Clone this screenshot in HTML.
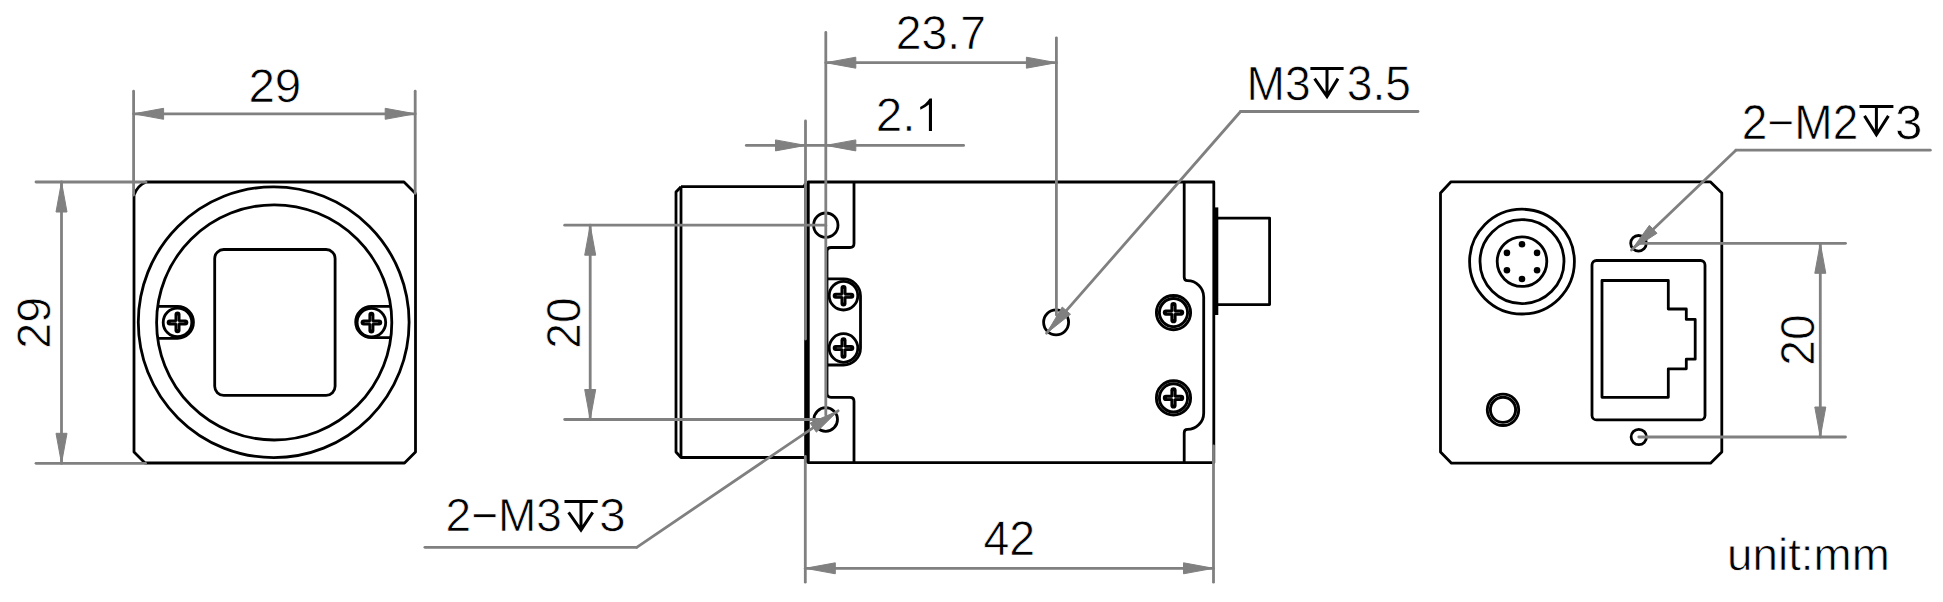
<!DOCTYPE html>
<html><head><meta charset="utf-8"><style>
html,body{margin:0;padding:0;background:#fff;}
svg{display:block;}
text{font-family:"Liberation Sans",sans-serif;fill:#000;stroke:#fff;stroke-width:0.7px;text-rendering:geometricPrecision;}
</style></head><body>
<svg width="1943" height="602" viewBox="0 0 1943 602">
<rect width="1943" height="602" fill="#fff"/>
<g id="shapes">
<path d="M146,182 H404 L415.5,193.5 V452 L404.5,463 H145 L134,452 V195 Q137.5,185.5 146,182 Z" stroke="#000" stroke-width="2.8" fill="none" stroke-linejoin="round" />
<circle cx="273.7" cy="322.2" r="135.4" stroke="#000" stroke-width="2.8" fill="none"/>
<circle cx="274.2" cy="322.4" r="117.6" stroke="#000" stroke-width="2.8" fill="none"/>
<rect x="214.7" y="249.5" width="120.4" height="145.8" rx="9" ry="9" stroke="#000" stroke-width="2.8" fill="none"/>
<path d="M157.5,306.4 H177.5 A15.95,15.95 0 0 1 177.5,338.3 H157.5" stroke="#000" stroke-width="2.8" fill="none" stroke-linejoin="round" />
<path d="M391,306.3 H371.4 A15.7,15.7 0 0 0 371.4,337.7 H391" stroke="#000" stroke-width="2.8" fill="none" stroke-linejoin="round" />
<circle cx="177.5" cy="322.4" r="14.3" stroke="#000" stroke-width="2.8" fill="none"/>
<line x1="169.7" y1="322.4" x2="185.3" y2="322.4" stroke="#000" stroke-width="6.0" stroke-linecap="round"/>
<line x1="177.5" y1="314.59999999999997" x2="177.5" y2="330.2" stroke="#000" stroke-width="6.0" stroke-linecap="round"/>
<line x1="170.7" y1="322.4" x2="184.3" y2="322.4" stroke="#666" stroke-width="0.8" stroke-linecap="butt"/>
<line x1="177.5" y1="315.59999999999997" x2="177.5" y2="329.2" stroke="#666" stroke-width="0.8" stroke-linecap="butt"/>
<circle cx="177.5" cy="322.4" r="1.1" fill="#fff"/>
<circle cx="371.4" cy="322.6" r="14.3" stroke="#000" stroke-width="2.8" fill="none"/>
<line x1="363.59999999999997" y1="322.6" x2="379.2" y2="322.6" stroke="#000" stroke-width="6.0" stroke-linecap="round"/>
<line x1="371.4" y1="314.8" x2="371.4" y2="330.40000000000003" stroke="#000" stroke-width="6.0" stroke-linecap="round"/>
<line x1="364.59999999999997" y1="322.6" x2="378.2" y2="322.6" stroke="#666" stroke-width="0.8" stroke-linecap="butt"/>
<line x1="371.4" y1="315.8" x2="371.4" y2="329.40000000000003" stroke="#666" stroke-width="0.8" stroke-linecap="butt"/>
<circle cx="371.4" cy="322.6" r="1.1" fill="#fff"/>
<line x1="133.6" y1="91.2" x2="133.6" y2="195" stroke="#808080" stroke-width="2.8" stroke-linecap="round"/>
<line x1="415.2" y1="91.2" x2="415.2" y2="193.3" stroke="#808080" stroke-width="2.8" stroke-linecap="round"/>
<line x1="133.6" y1="113.8" x2="415.2" y2="113.8" stroke="#808080" stroke-width="2.8" stroke-linecap="round"/>
<polygon points="133.60,113.80 163.60,108.30 163.60,119.30" fill="#808080" stroke="#808080" stroke-width="1" stroke-linejoin="round"/>
<polygon points="415.20,113.80 385.20,119.30 385.20,108.30" fill="#808080" stroke="#808080" stroke-width="1" stroke-linejoin="round"/>
<line x1="36" y1="182" x2="146" y2="182" stroke="#808080" stroke-width="2.8" stroke-linecap="round"/>
<line x1="36" y1="463.3" x2="145.5" y2="463.3" stroke="#808080" stroke-width="2.8" stroke-linecap="round"/>
<line x1="61.5" y1="182" x2="61.5" y2="463.3" stroke="#808080" stroke-width="2.8" stroke-linecap="round"/>
<polygon points="61.50,182.00 67.00,212.00 56.00,212.00" fill="#808080" stroke="#808080" stroke-width="1" stroke-linejoin="round"/>
<polygon points="61.50,463.30 56.00,433.30 67.00,433.30" fill="#808080" stroke="#808080" stroke-width="1" stroke-linejoin="round"/>
<path d="M681,186.7 H803 Q805,186 805.5,183" stroke="#000" stroke-width="2.8" fill="none" stroke-linejoin="round" />
<path d="M681,186.7 L676,192 V452 L681,457.5 H805" stroke="#000" stroke-width="2.8" fill="none" stroke-linejoin="round" />
<line x1="681" y1="186.7" x2="681" y2="457.5" stroke="#000" stroke-width="2.8" stroke-linecap="butt"/>
<line x1="805.8" y1="184" x2="805.8" y2="462.7" stroke="#000" stroke-width="3.2" stroke-linecap="butt"/>
<path d="M808.3,182 H1213.8 V462.7 H808.3 Z" stroke="#000" stroke-width="2.8" fill="none" stroke-linejoin="round" />
<path d="M854,182 V243.5 Q854,247.5 850,247.5 H831 Q827,247.5 827,251.5 V393.3 Q827,397.3 831,397.3 H850 Q854,397.3 854,401.3 V462.7" stroke="#000" stroke-width="2.8" fill="none" stroke-linejoin="round" />
<path d="M827,278.9 H843.5 A17,17 0 0 1 860.5,295.9 V348 A17,17 0 0 1 843.5,365 H827" stroke="#000" stroke-width="2.8" fill="none" stroke-linejoin="round" />
<circle cx="843.5" cy="295.7" r="14.3" stroke="#000" stroke-width="2.8" fill="none"/>
<line x1="835.7" y1="295.7" x2="851.3" y2="295.7" stroke="#000" stroke-width="6.0" stroke-linecap="round"/>
<line x1="843.5" y1="287.9" x2="843.5" y2="303.5" stroke="#000" stroke-width="6.0" stroke-linecap="round"/>
<line x1="836.7" y1="295.7" x2="850.3" y2="295.7" stroke="#666" stroke-width="0.8" stroke-linecap="butt"/>
<line x1="843.5" y1="288.9" x2="843.5" y2="302.5" stroke="#666" stroke-width="0.8" stroke-linecap="butt"/>
<circle cx="843.5" cy="295.7" r="1.1" fill="#fff"/>
<circle cx="843.5" cy="348" r="14.3" stroke="#000" stroke-width="2.8" fill="none"/>
<line x1="835.7" y1="348" x2="851.3" y2="348" stroke="#000" stroke-width="6.0" stroke-linecap="round"/>
<line x1="843.5" y1="340.2" x2="843.5" y2="355.8" stroke="#000" stroke-width="6.0" stroke-linecap="round"/>
<line x1="836.7" y1="348" x2="850.3" y2="348" stroke="#666" stroke-width="0.8" stroke-linecap="butt"/>
<line x1="843.5" y1="341.2" x2="843.5" y2="354.8" stroke="#666" stroke-width="0.8" stroke-linecap="butt"/>
<circle cx="843.5" cy="348" r="1.1" fill="#fff"/>
<circle cx="825.8" cy="225.2" r="12.2" stroke="#000" stroke-width="2.8" fill="none"/>
<circle cx="825.7" cy="419.5" r="11.8" stroke="#000" stroke-width="2.8" fill="none"/>
<circle cx="1056.1" cy="322.3" r="12.5" stroke="#000" stroke-width="2.8" fill="none"/>
<path d="M1184.2,182 V277 Q1184.2,280.7 1187.4,280.7 A16.3,16.3 0 0 1 1203.7,297 V412.9 A16.5,16.5 0 0 1 1187.4,429.4 Q1184.2,429.4 1184.2,433 V462.7" stroke="#000" stroke-width="2.8" fill="none" stroke-linejoin="round" />
<circle cx="1173.5" cy="312.6" r="14.1" stroke="#000" stroke-width="2.9" fill="none"/>
<circle cx="1173.5" cy="312.6" r="17.1" stroke="#000" stroke-width="2.9" fill="none"/>
<line x1="1165.9" y1="312.6" x2="1181.1" y2="312.6" stroke="#000" stroke-width="6.2" stroke-linecap="round"/>
<line x1="1173.5" y1="305.0" x2="1173.5" y2="320.20000000000005" stroke="#000" stroke-width="6.2" stroke-linecap="round"/>
<line x1="1166.9" y1="312.6" x2="1180.1" y2="312.6" stroke="#666" stroke-width="0.8" stroke-linecap="butt"/>
<line x1="1173.5" y1="306.0" x2="1173.5" y2="319.20000000000005" stroke="#666" stroke-width="0.8" stroke-linecap="butt"/>
<circle cx="1173.5" cy="312.6" r="1.1" fill="#fff"/>
<circle cx="1173.5" cy="397.9" r="14.1" stroke="#000" stroke-width="2.9" fill="none"/>
<circle cx="1173.5" cy="397.9" r="17.1" stroke="#000" stroke-width="2.9" fill="none"/>
<line x1="1165.9" y1="397.9" x2="1181.1" y2="397.9" stroke="#000" stroke-width="6.2" stroke-linecap="round"/>
<line x1="1173.5" y1="390.29999999999995" x2="1173.5" y2="405.5" stroke="#000" stroke-width="6.2" stroke-linecap="round"/>
<line x1="1166.9" y1="397.9" x2="1180.1" y2="397.9" stroke="#666" stroke-width="0.8" stroke-linecap="butt"/>
<line x1="1173.5" y1="391.29999999999995" x2="1173.5" y2="404.5" stroke="#666" stroke-width="0.8" stroke-linecap="butt"/>
<circle cx="1173.5" cy="397.9" r="1.1" fill="#fff"/>
<path d="M1215.5,218.1 H1269.6 V304.6 H1215.5" stroke="#000" stroke-width="2.8" fill="none" stroke-linejoin="round" />
<line x1="1216.3" y1="207.4" x2="1216.3" y2="315" stroke="#000" stroke-width="4.0" stroke-linecap="butt"/>
<line x1="825.8" y1="32.4" x2="825.8" y2="415" stroke="#808080" stroke-width="2.8" stroke-linecap="round"/>
<line x1="1056.4" y1="37.8" x2="1056.4" y2="315" stroke="#808080" stroke-width="2.8" stroke-linecap="round"/>
<line x1="825.8" y1="62.7" x2="1056.4" y2="62.7" stroke="#808080" stroke-width="2.8" stroke-linecap="round"/>
<polygon points="825.80,62.70 855.80,57.20 855.80,68.20" fill="#808080" stroke="#808080" stroke-width="1" stroke-linejoin="round"/>
<polygon points="1056.40,62.70 1026.40,68.20 1026.40,57.20" fill="#808080" stroke="#808080" stroke-width="1" stroke-linejoin="round"/>
<line x1="805.5" y1="121" x2="805.5" y2="339" stroke="#808080" stroke-width="2.8" stroke-linecap="round"/>
<line x1="746.3" y1="145.4" x2="963.6" y2="145.4" stroke="#808080" stroke-width="2.8" stroke-linecap="round"/>
<polygon points="805.50,145.40 775.50,150.90 775.50,139.90" fill="#808080" stroke="#808080" stroke-width="1" stroke-linejoin="round"/>
<polygon points="825.80,145.40 855.80,139.90 855.80,150.90" fill="#808080" stroke="#808080" stroke-width="1" stroke-linejoin="round"/>
<line x1="564.7" y1="225.2" x2="825.8" y2="225.2" stroke="#808080" stroke-width="2.8" stroke-linecap="round"/>
<line x1="564.7" y1="419.5" x2="825.7" y2="419.5" stroke="#808080" stroke-width="2.8" stroke-linecap="round"/>
<line x1="590.2" y1="225.2" x2="590.2" y2="419.5" stroke="#808080" stroke-width="2.8" stroke-linecap="round"/>
<polygon points="590.20,225.20 595.70,255.20 584.70,255.20" fill="#808080" stroke="#808080" stroke-width="1" stroke-linejoin="round"/>
<polygon points="590.20,419.50 584.70,389.50 595.70,389.50" fill="#808080" stroke="#808080" stroke-width="1" stroke-linejoin="round"/>
<line x1="805.3" y1="456.5" x2="805.3" y2="582.2" stroke="#808080" stroke-width="2.8" stroke-linecap="round"/>
<line x1="1213.5" y1="445.8" x2="1213.5" y2="582.2" stroke="#808080" stroke-width="2.8" stroke-linecap="round"/>
<line x1="805.3" y1="568.3" x2="1213.5" y2="568.3" stroke="#808080" stroke-width="2.8" stroke-linecap="round"/>
<polygon points="805.30,568.30 835.30,562.80 835.30,573.80" fill="#808080" stroke="#808080" stroke-width="1" stroke-linejoin="round"/>
<polygon points="1213.50,568.30 1183.50,573.80 1183.50,562.80" fill="#808080" stroke="#808080" stroke-width="1" stroke-linejoin="round"/>
<line x1="424.9" y1="547.3" x2="636.7" y2="547.3" stroke="#808080" stroke-width="2.8" stroke-linecap="round"/>
<line x1="636.7" y1="547.3" x2="838.1" y2="410.8" stroke="#808080" stroke-width="2.8" stroke-linecap="round"/>
<polygon points="838.10,410.80 816.35,432.18 810.18,423.08" fill="#808080" stroke="#808080" stroke-width="1" stroke-linejoin="round"/>
<line x1="1240.6" y1="111.5" x2="1418" y2="111.5" stroke="#808080" stroke-width="2.8" stroke-linecap="round"/>
<line x1="1240.6" y1="111.5" x2="1046.6" y2="333.2" stroke="#808080" stroke-width="2.8" stroke-linecap="round"/>
<polygon points="1046.60,333.20 1062.22,307.00 1070.49,314.25" fill="#808080" stroke="#808080" stroke-width="1" stroke-linejoin="round"/>
<path d="M1451,181.8 H1710.3 L1721.8,193 V452 L1710.5,463.2 H1451.5 L1440.5,452 V193 Z" stroke="#000" stroke-width="2.8" fill="none" stroke-linejoin="round" />
<circle cx="1522" cy="261.6" r="52.4" stroke="#000" stroke-width="2.8" fill="none"/>
<circle cx="1522" cy="261.6" r="42" stroke="#000" stroke-width="2.8" fill="none"/>
<circle cx="1522" cy="261.6" r="24.8" stroke="#000" stroke-width="2.8" fill="none"/>
<circle cx="1522.00" cy="244.20" r="3.3" fill="#000"/>
<circle cx="1506.93" cy="252.90" r="3.3" fill="#000"/>
<circle cx="1506.93" cy="270.30" r="3.3" fill="#000"/>
<circle cx="1522.00" cy="279.00" r="3.3" fill="#000"/>
<circle cx="1537.07" cy="270.30" r="3.3" fill="#000"/>
<circle cx="1537.07" cy="252.90" r="3.3" fill="#000"/>
<circle cx="1503" cy="409.8" r="12.6" stroke="#000" stroke-width="2.9" fill="none"/>
<circle cx="1503" cy="409.8" r="15.7" stroke="#000" stroke-width="2.9" fill="none"/>
<rect x="1592" y="260.5" width="113" height="159.4" rx="4.5" ry="4.5" stroke="#000" stroke-width="2.8" fill="none"/>
<path d="M1602,280.5 H1668.3 V309 H1686.3 V319.4 H1695.2 V359.2 H1686.3 V368.8 H1668.3 V397.3 H1602 Z" stroke="#000" stroke-width="2.8" fill="none" stroke-linejoin="round" />
<circle cx="1638.5" cy="243.3" r="7.8" stroke="#000" stroke-width="2.8" fill="none"/>
<circle cx="1638.8" cy="437" r="7.7" stroke="#000" stroke-width="2.8" fill="none"/>
<line x1="1638.5" y1="243.3" x2="1845.5" y2="243.3" stroke="#808080" stroke-width="2.8" stroke-linecap="round"/>
<line x1="1638.8" y1="437" x2="1845.5" y2="437" stroke="#808080" stroke-width="2.8" stroke-linecap="round"/>
<line x1="1820.3" y1="243.3" x2="1820.3" y2="437" stroke="#808080" stroke-width="2.8" stroke-linecap="round"/>
<polygon points="1820.30,243.30 1825.80,273.30 1814.80,273.30" fill="#808080" stroke="#808080" stroke-width="1" stroke-linejoin="round"/>
<polygon points="1820.30,437.00 1814.80,407.00 1825.80,407.00" fill="#808080" stroke="#808080" stroke-width="1" stroke-linejoin="round"/>
<line x1="1735.9" y1="150.2" x2="1930.3" y2="150.2" stroke="#808080" stroke-width="2.8" stroke-linecap="round"/>
<line x1="1735.9" y1="150.2" x2="1631.5" y2="250" stroke="#808080" stroke-width="2.8" stroke-linecap="round"/>
<polygon points="1631.50,250.00 1649.39,225.29 1656.99,233.25" fill="#808080" stroke="#808080" stroke-width="1" stroke-linejoin="round"/>
</g>
<g id="texts">
<text id="t0" x="248.42" y="102.49" font-size="47.17" textLength="52.93" lengthAdjust="spacingAndGlyphs">29</text>
<text id="t1" x="49.77" y="348.69" font-size="46.97" textLength="51.83" lengthAdjust="spacingAndGlyphs" transform="rotate(-90 49.77 348.69)">29</text>
<text id="t2" x="895.85" y="48.98" font-size="47.32" textLength="90.09" lengthAdjust="spacingAndGlyphs">23.7</text>
<text id="t3" x="875.86" y="131.16" font-size="47.18" textLength="39.71" lengthAdjust="spacingAndGlyphs">2.</text>
<text id="t4" x="579.57" y="348.64" font-size="47.58" textLength="51.38" lengthAdjust="spacingAndGlyphs" transform="rotate(-90 579.57 348.64)">20</text>
<text id="t5" x="983.40" y="554.81" font-size="48.60" textLength="51.66" lengthAdjust="spacingAndGlyphs">42</text>
<text id="t6" x="1813.58" y="365.86" font-size="47.60" textLength="51.50" lengthAdjust="spacingAndGlyphs" transform="rotate(-90 1813.58 365.86)">20</text>
<text id="t7" x="1727.13" y="569.78" font-size="45.25" textLength="162.61" lengthAdjust="spacingAndGlyphs">unit:mm</text>
<text id="t8" x="1246.50" y="100.05" font-size="47.96" textLength="64.10" lengthAdjust="spacingAndGlyphs">M3</text>
<text id="t9" x="1346.75" y="100.15" font-size="48.90" textLength="64.16" lengthAdjust="spacingAndGlyphs">3.5</text>
<text id="t10" x="445.56" y="530.88" font-size="46.38" textLength="116.37" lengthAdjust="spacingAndGlyphs">2−M3</text>
<text id="t11" x="599.37" y="531.07" font-size="46.35" textLength="26.37" lengthAdjust="spacingAndGlyphs">3</text>
<text id="t12" x="1741.75" y="139.30" font-size="48.73" textLength="116.52" lengthAdjust="spacingAndGlyphs">2−M2</text>
<text id="t13" x="1895.08" y="138.98" font-size="48.26" textLength="27.41" lengthAdjust="spacingAndGlyphs">3</text>
<path d="M932,98.4 V131.1 H928.9 V104.6 Q925,107.8 920.4,109.8 L920.1,106.9 Q925.5,104.5 929.6,98.4 Z" fill="#000"/>
<path class="dep" d="M1310.4,68.6 H1343.6 M1327,68.6 V96.6 M1314.6,78.6 L1327,96.6 L1338,78.6" stroke="#000" stroke-width="3.0" fill="none" stroke-linejoin="miter"/>
<path class="dep" d="M564.5,501.4 H597.7 M581,501.4 V530 M568.6,512.4 L581,530 L592.7,512.4" stroke="#000" stroke-width="3.0" fill="none" stroke-linejoin="miter"/>
<path class="dep" d="M1859.5,106.5 H1893.4 M1876.4,106.5 V134.8 M1864.5,115.9 L1876.4,134.8 L1888.4,115.9" stroke="#000" stroke-width="3.0" fill="none" stroke-linejoin="miter"/>
</g>
</svg>
</body></html>
